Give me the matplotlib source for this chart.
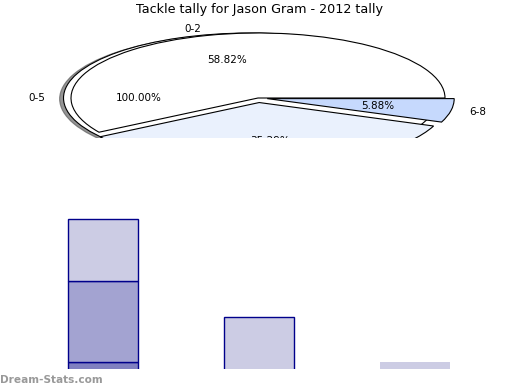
import matplotlib
matplotlib.use("Agg")
import matplotlib.pyplot as plt

# ---- data ----
title = "Tackle tally for Jason Gram - 2012 tally"
outer_labels = ["0-5"]
outer_values = [17]
inner_labels = ["0-2", "3-5", "6-8"]
inner_values = [10, 6, 1]
inner_colors = ["#ffffff", "#eaf1fd", "#c6d9fd"]

bar_positions = [0, 1, 2]
bar_dark = [1.0, 0.0, 0.0]
bar_mid = [10.0, 0.0, 0.0]
bar_light = [7.75, 6.6, 1.0]

W, H = 520, 390
fig = plt.figure(figsize=(W / 100, H / 100), dpi=100)

# ---- pie (squashed, clipped) ----
cx, cy = 258, 98        # pixel center
rx, ry = 187, 65        # pixel radii
top_px, bot_px = 0, 138
axp = fig.add_axes([0, (H - bot_px) / H, 1, (bot_px - top_px) / H])

w1, t1, a1 = axp.pie(outer_values, labels=outer_labels, colors=["white"],
                     explode=[0.04], shadow=dict(ox=-0.015, oy=-0.01, alpha=0.6),
                     autopct="%.2f%%",
                     wedgeprops=dict(edgecolor="black", linewidth=0.8),
                     textprops=dict(fontsize=7.5))
w2, t2, a2 = axp.pie(inner_values, labels=["0-2", "", "6-8"], colors=inner_colors,
                     explode=[0.0, 0.07, 0.05], autopct="%.2f%%",
                     wedgeprops=dict(edgecolor="black", linewidth=0.8),
                     textprops=dict(fontsize=7.5))
axp.set_aspect("auto")
axp.set_xlim(-cx / rx, (W - cx) / rx)
axp.set_ylim(-(bot_px - cy) / ry, (cy - top_px) / ry)
axp.axis("off")
for p in axp.patches:
    p.set_clip_on(True)
    p.set_clip_box(axp.bbox)
for t in list(t1) + list(a1) + list(t2) + list(a2):
    t.set_clip_on(True)
    t.set_clip_box(axp.bbox)

fig.text(0.5, 1 - 10 / H, title, ha="center", va="center", fontsize=9.2)

# ---- bars ----
bar_top_px, bar_bot_px = 200, 369
axb = fig.add_axes([0, (H - bar_bot_px) / H, 1, (bar_bot_px - bar_top_px) / H])
x0px, step = 103, 156
width = 70 / step
edge = "#00008b"
axb.bar(bar_positions[:2], bar_dark[:2], width=width, color="#8080c0",
        edgecolor=edge, linewidth=1)
axb.bar(bar_positions[:2], bar_mid[:2], bottom=bar_dark[:2], width=width,
        color="#a3a3d1", edgecolor=edge, linewidth=1)
bottoms = [d + m for d, m in zip(bar_dark, bar_mid)]
axb.bar(bar_positions[:2], bar_light[:2], bottom=bottoms[:2], width=width,
        color="#ccccE4", edgecolor=edge, linewidth=1)
axb.bar(bar_positions[2:], bar_light[2:], bottom=bottoms[2:], width=width,
        color="#ccccE4", edgecolor="none")
axb.set_xlim(-x0px / step, (W - x0px) / step)
axb.set_ylim(0.08, (bar_bot_px - bar_top_px) / 8)
axb.axis("off")

fig.text(0.0, 1 - 380 / H, "Dream-Stats.com", ha="left", va="center",
         fontsize=7.6, fontweight="bold", color="#999999")

fig.savefig("out.png", dpi=100)
